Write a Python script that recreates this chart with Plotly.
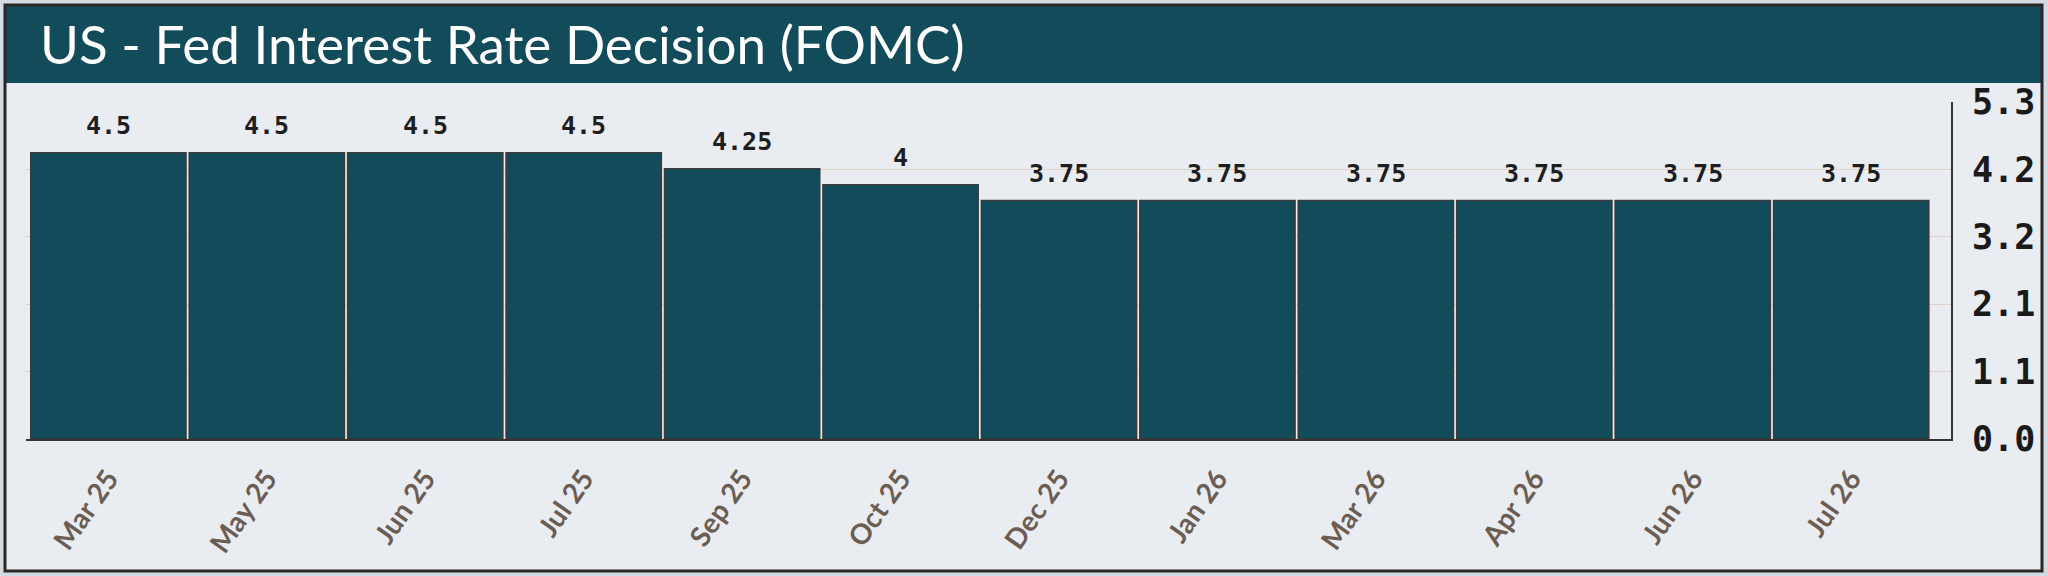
import plotly.graph_objects as go

W, H = 2048, 576

TITLE = "US - Fed Interest Rate Decision (FOMC)"
months = ["Mar 25", "May 25", "Jun 25", "Jul 25", "Sep 25", "Oct 25",
          "Dec 25", "Jan 26", "Mar 26", "Apr 26", "Jun 26", "Jul 26"]
rates = [4.5, 4.5, 4.5, 4.5, 4.25, 4, 3.75, 3.75, 3.75, 3.75, 3.75, 3.75]
y_ticks = [0, 1.06, 2.12, 3.18, 4.24, 5.3]
y_labels = ["0.0", "1.1", "2.1", "3.2", "4.2", "5.3"]

TEAL = "#124b5a"
CARD = "#e9ecf1"
PAGE = "#d3dae3"
EDGE = "#2b2724"
MONO = "DejaVu Sans Mono"


def px_x(p):
    return p / W


def px_y(p):
    return 1 - p / H


fig = go.Figure()
fig.add_trace(go.Bar(
    x=months,
    y=rates,
    marker=dict(color=TEAL, line=dict(color="#3a3a3a", width=1.5)),
    hoverinfo="x+y",
))

# value labels above the bars
for m, r in zip(months, rates):
    fig.add_annotation(
        x=m, y=r, xref="x", yref="y",
        text=f"{r:g}", showarrow=False,
        yanchor="bottom", yshift=11,
        font=dict(family=MONO, size=25, color="#1e1e1e", weight="bold"),
    )

# card, header bar and frame
fig.add_shape(type="rect", xref="paper", yref="paper", layer="below",
              x0=px_x(4), x1=px_x(2043), y0=px_y(572), y1=px_y(4),
              fillcolor=CARD, line=dict(width=0))
fig.add_shape(type="rect", xref="paper", yref="paper", layer="below",
              x0=px_x(4), x1=px_x(2043), y0=px_y(83), y1=px_y(4),
              fillcolor=TEAL, line=dict(width=0))
fig.add_shape(type="rect", xref="paper", yref="paper", layer="above",
              x0=px_x(5), x1=px_x(2042), y0=px_y(571), y1=px_y(5),
              fillcolor="rgba(0,0,0,0)", line=dict(color=EDGE, width=3))

fig.add_annotation(
    x=px_x(38), y=px_y(43), xref="paper", yref="paper",
    text=TITLE, showarrow=False, xanchor="left", yanchor="middle",
    font=dict(family="Lato", size=53, color="white"),
)

fig.update_layout(
    width=W, height=H,
    margin=dict(l=0, r=0, t=0, b=0, autoexpand=False),
    paper_bgcolor=PAGE,
    plot_bgcolor=CARD,
    showlegend=False,
    bargap=0.02,
    xaxis=dict(
        domain=[px_x(26), px_x(1951)],
        type="category",
        range=[-0.52, 11.63],
        showline=True, linecolor="#3a3430", linewidth=2,
        showgrid=False, ticks="",
        tickangle=-55,
        ticklabelstandoff=10,
        tickfont=dict(family="Lato", size=28, color="#6b5d52", weight="bold"),
    ),
    yaxis=dict(
        domain=[px_y(439), px_y(102)],
        side="right",
        range=[0, 5.3],
        tickvals=y_ticks, ticktext=y_labels,
        showline=True, linecolor="#3a3430", linewidth=2,
        showgrid=True, gridcolor="#ddd3ca", gridwidth=1,
        zeroline=False, ticks="",
        ticklabelstandoff=12,
        tickfont=dict(family=MONO, size=35, color="#1a1a1a", weight="bold"),
    ),
)

# page body margin would push the fixed-size figure out of the window
fig.write_html(
    "out.html",
    config={"displayModeBar": False},
    post_script="document.body.style.margin='0';document.body.style.overflow='hidden';",
)
